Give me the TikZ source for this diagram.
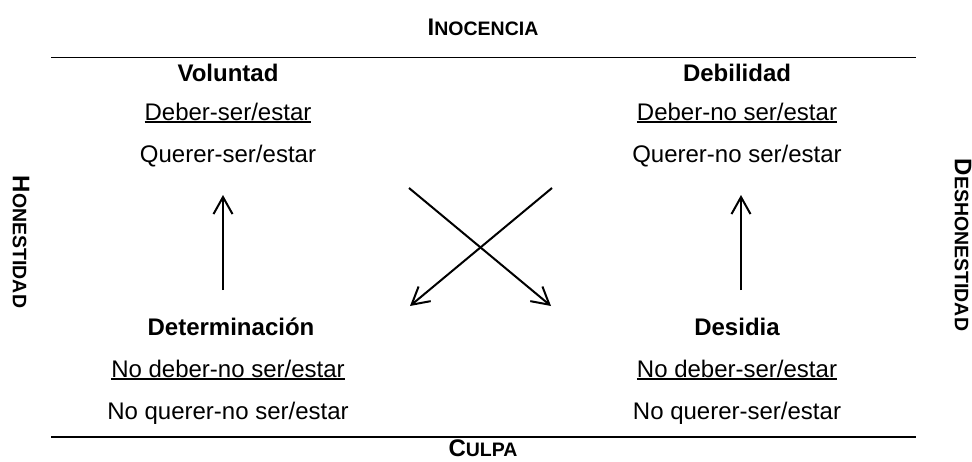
\documentclass[tikz,border=0pt]{standalone}
\usepackage{fontspec}
\setmainfont{Liberation Sans}
\usetikzlibrary{arrows.meta}
\newcommand\myul[1]{\setbox0\hbox{#1}\rlap{\rule[-2.6pt]{\wd0}{1.3pt}}\box0}
\newcommand\mysc[2]{\textbf{\fontsize{24}{28}\selectfont #1\fontsize{19.5}{24}\selectfont #2}}
\tikzset{
  txt/.style={anchor=base, inner sep=0pt, font=\fontsize{24}{28}\selectfont},
  head/.style={txt, font=\fontsize{24}{28}\selectfont\bfseries},
  side/.style={inner sep=0pt},
  rule/.style={line width=1.8pt},
  arr/.style={line width=2pt, -{Straight Barb[length=17pt,width=19pt]}}
}
\begin{document}
\begin{tikzpicture}[x=1pt,y=-1pt]
\useasboundingbox (0,0) rectangle (972,461);
% titles
\node[txt] (ino) at (483,35) {\mysc{I}{NOCENCIA}};
\node[txt] (cul) at (483,456) {\mysc{C}{ULPA}};
\node[side, rotate=-90] (hon) at (21,242) {\mysc{H}{ONESTIDAD}};
\node[side, rotate=-90] (des) at (963,245) {\mysc{D}{ESHONESTIDAD}};
% rules
\coordinate (t1) at (51,57.5); \coordinate (t2) at (916,57.5);
\coordinate (b1) at (51,437); \coordinate (b2) at (916,437);
\draw[rule] (t1) -- (t2);
\draw[rule] (b1) -- (b2);
% left top
\node[head] (vol) at (228,81) {Voluntad};
\node[txt] (vol1) at (228,120) {\myul{Deber-ser/estar}};
\node[txt] (vol2) at (228,162) {Querer-ser/estar};
% right top
\node[head] (deb) at (737,81) {Debilidad};
\node[txt] (deb1) at (737,120) {\myul{Deber-no ser/estar}};
\node[txt] (deb2) at (737,162) {Querer-no ser/estar};
% left bottom
\node[head] (det) at (231,335) {Determinación};
\node[txt] (det1) at (228,377) {\myul{No deber-no ser/estar}};
\node[txt] (det2) at (228,419) {No querer-no ser/estar};
% right bottom
\node[head] (dsd) at (737,335) {Desidia};
\node[txt] (dsd1) at (737,377) {\myul{No deber-ser/estar}};
\node[txt] (dsd2) at (737,419) {No querer-ser/estar};
% arrows
\coordinate (la0) at (223,290); \coordinate (la1) at (223,195);
\coordinate (ra0) at (741,290); \coordinate (ra1) at (741,195);
\draw[arr] (la0) -- (la1);
\draw[arr] (ra0) -- (ra1);
\coordinate (x1) at (409,188); \coordinate (x2) at (551,306);
\coordinate (y1) at (552,188); \coordinate (y2) at (410,306);
\draw[arr] (x1) -- (x2);
\draw[arr] (y1) -- (y2);
\end{tikzpicture}
\end{document}
